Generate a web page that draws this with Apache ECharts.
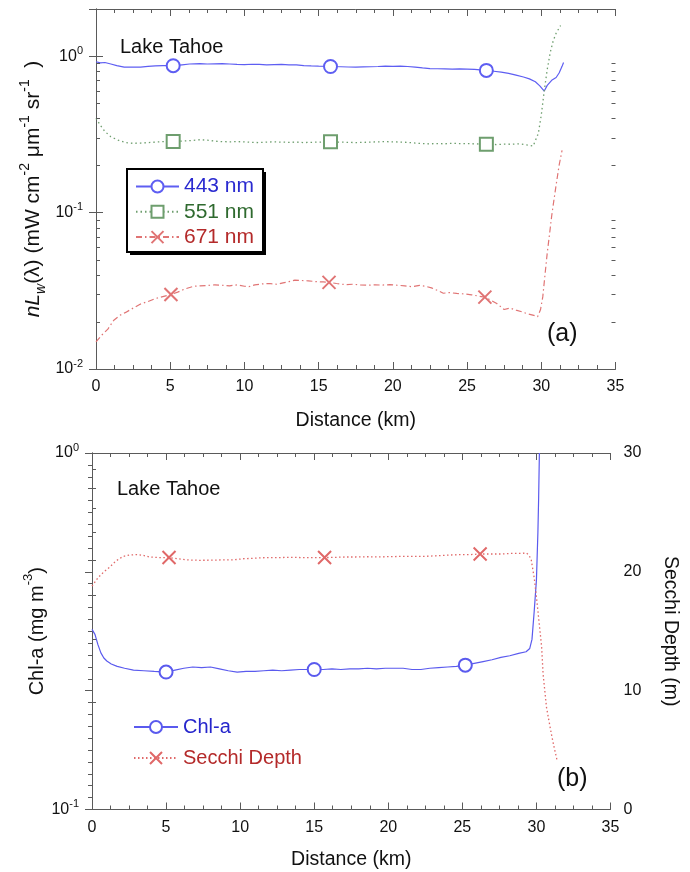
<!DOCTYPE html>
<html>
<head>
<meta charset="utf-8">
<script src="https://cdn.jsdelivr.net/npm/echarts@6/dist/echarts.min.js"></script>
<style>
html,body{margin:0;padding:0;background:#fff;}
#chart{width:690px;height:872px;}
</style>
</head>
<body>
<div id="chart"></div>
<script>
// ---------- DATA ----------
// Panel (a): nLw(λ) along transect
const dist443 = [0,0.3,0.6,1.0,1.4,1.9,2.5,3.0,3.5,4.0,4.5,5.2,5.8,6.3,7.0,7.5,8.0,8.5,9.0,9.5,10.0,10.5,11.0,11.5,12.0,12.5,13.0,13.5,14.0,14.5,15.0,15.8,16.5,17.0,17.5,18.0,18.5,19.0,19.5,20.0,20.5,21.0,21.5,22.0,22.5,23.0,23.5,24.0,24.5,25.0,25.5,26.3,26.8,27.3,27.8,28.3,28.8,29.2,29.6,29.9,30.2,30.4,30.7,31.0,31.2,31.4,31.5];
const nLw443 = [0.92,0.905,0.91,0.89,0.87,0.85,0.85,0.85,0.86,0.865,0.87,0.868,0.88,0.89,0.895,0.89,0.893,0.895,0.89,0.885,0.883,0.887,0.885,0.88,0.883,0.885,0.88,0.878,0.87,0.865,0.862,0.858,0.855,0.852,0.85,0.853,0.855,0.858,0.862,0.86,0.862,0.858,0.85,0.84,0.832,0.83,0.828,0.826,0.828,0.825,0.822,0.81,0.80,0.79,0.775,0.755,0.735,0.715,0.685,0.645,0.598,0.65,0.70,0.73,0.78,0.86,0.91];
const mark443 = [5.2,15.8,26.3];

const dist551 = [0,0.3,0.6,1.0,1.5,2.0,2.5,3.0,3.5,4.0,4.5,5.2,6.0,6.5,7.0,7.5,8.0,8.5,9.0,9.5,10.0,10.5,11.0,11.5,12.0,12.5,13.0,13.5,14.0,14.5,15.0,15.8,16.5,17.0,17.5,18.0,18.5,19.0,19.5,20.0,20.5,21.0,21.5,22.0,22.5,23.0,23.5,24.0,24.5,25.0,25.5,26.3,27.0,27.5,28.0,28.5,29.0,29.45,29.8,30.0,30.2,30.4,30.6,30.8,31.0,31.3];
const nLw551 = [0.40,0.36,0.33,0.305,0.29,0.28,0.277,0.278,0.28,0.282,0.284,0.285,0.287,0.289,0.292,0.29,0.286,0.284,0.283,0.284,0.283,0.281,0.28,0.282,0.283,0.282,0.281,0.282,0.28,0.281,0.282,0.283,0.282,0.281,0.28,0.281,0.282,0.283,0.284,0.283,0.282,0.281,0.278,0.276,0.275,0.276,0.275,0.277,0.276,0.276,0.275,0.273,0.272,0.274,0.273,0.275,0.271,0.266,0.32,0.42,0.60,0.82,1.05,1.25,1.40,1.57];
const mark551 = [5.2,15.8,26.3];

const dist671 = [0,0.4,0.8,1.2,1.6,2.0,2.5,3.0,3.5,4.0,4.5,5.05,5.5,6.0,6.6,7.0,7.5,8.0,8.5,9.0,9.5,10.0,10.3,10.7,11.2,11.7,12.2,12.6,13.0,13.4,13.8,14.3,14.8,15.3,15.7,16.2,16.8,17.3,17.8,18.3,18.8,19.3,19.8,20.3,20.8,21.3,21.8,22.2,22.6,23.0,23.4,23.8,24.3,24.8,25.3,25.8,26.2,26.6,27.0,27.5,27.9,28.3,28.7,29.1,29.5,29.75,29.95,30.1,30.25,30.4,30.55,30.7,30.85,31.0,31.2,31.4];
const nLw671 = [0.0149,0.0165,0.018,0.0205,0.022,0.023,0.0245,0.026,0.027,0.0282,0.029,0.0299,0.031,0.0325,0.0338,0.034,0.0342,0.0345,0.0343,0.034,0.0345,0.0338,0.0336,0.0345,0.035,0.0352,0.0348,0.0355,0.0362,0.037,0.0368,0.0366,0.0362,0.036,0.0358,0.0352,0.0346,0.0348,0.0345,0.0343,0.0345,0.0344,0.0346,0.0343,0.034,0.0336,0.0342,0.0338,0.033,0.0318,0.0305,0.0308,0.0304,0.0302,0.0298,0.0292,0.0288,0.0275,0.0262,0.024,0.0245,0.0238,0.0232,0.0225,0.022,0.0216,0.024,0.0289,0.040,0.055,0.072,0.095,0.12,0.15,0.20,0.25];
const mark671 = [5.05,15.7,26.2];

// Panel (b): Chl-a and Secchi depth
const distChl = [0,0.2,0.4,0.6,0.8,1.0,1.3,1.7,2.2,2.8,3.5,4.2,5.0,5.6,6.2,6.8,7.4,8.0,8.6,9.2,9.8,10.4,11.0,11.6,12.2,12.8,13.4,14.0,15.0,15.6,16.2,16.8,17.4,18.0,18.6,19.2,19.8,20.4,21.0,21.6,22.2,22.8,23.4,24.0,24.6,25.2,25.8,26.4,27.0,27.6,28.2,28.8,29.3,29.55,29.7,29.85,30.0,30.1,30.15,30.2];
const chl = [0.32,0.31,0.29,0.275,0.266,0.261,0.256,0.252,0.249,0.246,0.245,0.244,0.243,0.246,0.249,0.251,0.25,0.251,0.248,0.245,0.243,0.244,0.244,0.245,0.246,0.245,0.246,0.247,0.247,0.247,0.248,0.247,0.248,0.248,0.249,0.248,0.249,0.249,0.249,0.247,0.247,0.249,0.25,0.251,0.252,0.254,0.257,0.26,0.263,0.267,0.27,0.274,0.277,0.283,0.30,0.36,0.44,0.6,0.75,1.0];
const markChl = [5.0,15.0,25.2];

const distSecchi = [0,0.4,0.8,1.2,1.6,2.1,2.5,2.95,3.4,3.9,4.5,5.2,5.8,6.5,7.3,8.0,8.7,9.5,10.2,11.0,11.8,12.6,13.4,14.2,15.0,15.7,16.4,17.05,17.8,18.6,19.4,20.2,21.0,21.8,22.45,23.2,24.0,24.8,25.5,26.2,26.9,27.6,28.3,29.0,29.3,29.5,29.65,29.85,30.0,30.2,30.35,30.45,30.68,31.0,31.2,31.4];
const secchi = [18.8,19.5,20.0,20.4,20.9,21.3,21.4,21.45,21.4,21.25,21.2,21.2,21.1,21.0,20.97,20.98,21.0,21.0,21.1,21.15,21.2,21.2,21.22,21.2,21.2,21.2,21.22,21.25,21.25,21.27,21.26,21.28,21.3,21.3,21.3,21.35,21.4,21.45,21.45,21.5,21.5,21.5,21.55,21.55,21.6,21.4,21.0,19.5,17.9,15.5,13.7,11.4,8.6,6.4,5.2,4.1];
const markSecchi = [5.2,15.7,26.2];

// Axis ranges
const xRange = [0, 35];
const nLwRange = [0.01, 2];
const chlRange = [0.1, 1];
const secchiRange = [0, 30];

// ---------- HELPERS ----------
const FONT = 'Liberation Sans, Arial, Helvetica, sans-serif';
const AXC = '#5a5a5a';

function buildData(xs, ys, marks) {
  return xs.map((x, i) => marks.indexOf(x) >= 0 ? [x, ys[i]] : { value: [x, ys[i]], symbol: 'none' });
}
function logMinor(lo, hi) {
  const out = [];
  for (let d = lo; d < hi * 0.999; d *= 10) {
    for (let m = 2; m <= 9; m++) { const v = +(m * d).toPrecision(6); if (v < hi) out.push(v); }
  }
  return out;
}
function powLabel(v) {
  const e = Math.log10(v);
  if (Math.abs(e - Math.round(e)) > 1e-6) return '';
  return '{b|10}{s|' + Math.round(e) + '}';
}
const powRich = {
  b: { fontSize: 16, fontFamily: FONT, color: '#111', lineHeight: 22 },
  s: { fontSize: 11, fontFamily: FONT, color: '#111', lineHeight: 11, verticalAlign: 'top' }
};

function xAxisDef(grid, pos, withLabel, nameGap) {
  return {
    type: 'value', gridIndex: grid, position: pos,
    min: xRange[0], max: xRange[1], interval: 5,
    axisLine: { show: true, lineStyle: { color: AXC, width: 1 } },
    axisTick: { show: true, inside: true, length: 7, lineStyle: { color: AXC } },
    minorTick: { show: true, splitNumber: 4, length: 4, lineStyle: { color: AXC } },
    axisLabel: { show: withLabel, fontSize: 16, fontFamily: FONT, color: '#111', margin: 10 },
    splitLine: { show: false }, minorSplitLine: { show: false },
    name: withLabel ? 'Distance (km)' : '',
    nameLocation: 'middle', nameGap: nameGap || 40, nameMoveOverlap: false,
    nameTextStyle: { fontSize: 19.5, fontFamily: FONT, color: '#111' }
  };
}
function logAxisDef(grid, pos, range, withLabel, extra) {
  return Object.assign({
    type: 'log', logBase: 10, gridIndex: grid, position: pos,
    min: range[0], max: range[1], interval: 1,
    axisLine: { show: true, lineStyle: { color: AXC, width: 1 } },
    axisTick: { show: true, inside: true, length: 7, lineStyle: { color: AXC } },
    axisLabel: { show: withLabel, formatter: powLabel, rich: powRich, margin: 13 },
    splitLine: { show: false }, nameMoveOverlap: false
  }, extra || {});
}
// minor ticks of the log axes, positioned through the axis scale
function minorTickSeries(xi, yi, vals, side, len) {
  return {
    type: 'custom', xAxisIndex: xi, yAxisIndex: yi, silent: true, clip: false, animation: false, z: 5,
    data: vals.map(v => [xRange[0], v]),
    renderItem: function (params, api) {
      const cs = params.coordSys;
      const p = api.coord([xRange[0], api.value(1)]);
      const y = Math.round(p[1]) + 0.5;
      const x0 = side === 'left' ? cs.x : cs.x + cs.width;
      const dx = side === 'left' ? len : -len;
      return { type: 'line', shape: { x1: x0, y1: y, x2: x0 + dx, y2: y }, style: { stroke: AXC, lineWidth: 1 } };
    }
  };
}

const C443 = '#5e5ef2', T443 = '#2a2ad0';
const C551 = '#6e9e6e', T551 = '#2f6a2f';
const C671 = '#e07474', T671 = '#b42a2a';
const CCHL = '#5a5aee', TCHL = '#2626cc';
const CSEC = '#e06868', TSEC = '#b42a2a';
const CROSS = 'emptyPath://M0,0L10,10M10,0L0,10';

function lineSeries(name, xi, yi, data, color, symbol, lineType, width) {
  return {
    name: name, type: 'line', xAxisIndex: xi, yAxisIndex: yi,
    data: data, symbol: symbol, symbolSize: 13, symbolKeepAspect: true,
    showSymbol: true, showAllSymbol: true, smooth: false, clip: true,
    lineStyle: { color: color, width: width || 1.1, type: lineType },
    itemStyle: { color: color, borderWidth: 1.2 },
    emphasis: { disabled: true }, animation: false, z: 3
  };
}

const option = {
  animation: false,
  backgroundColor: '#fff',
  textStyle: { fontFamily: FONT },
  grid: [
    { left: 96, top: 9, width: 519.5, height: 360, outerBoundsMode: 'none' },
    { left: 92, top: 453, width: 518.5, height: 356.5, outerBoundsMode: 'none' }
  ],
  xAxis: [
    xAxisDef(0, 'bottom', true, 42),
    xAxisDef(0, 'top', false),
    xAxisDef(1, 'bottom', true, 40),
    xAxisDef(1, 'top', false)
  ],
  yAxis: [
    logAxisDef(0, 'left', nLwRange, true, {
      name: '{it|nL}{sub|w}{n|(λ) (mW cm}{sup|-2}{n| μm}{sup|-1}{n| sr}{sup|-1}{n|  )}',
      nameLocation: 'middle', nameGap: 48, nameRotate: 90,
      nameTextStyle: {
        color: '#111', fontFamily: FONT,
        rich: {
          it: { fontSize: 21, fontStyle: 'italic', fontFamily: FONT, color: '#111', lineHeight: 30 },
          n: { fontSize: 21, fontFamily: FONT, color: '#111', lineHeight: 30 },
          sup: { fontSize: 14, fontFamily: FONT, color: '#111', lineHeight: 13, verticalAlign: 'top' },
          sub: { fontSize: 14, fontStyle: 'italic', fontFamily: FONT, color: '#111', lineHeight: 13, verticalAlign: 'bottom' }
        }
      }
    }),
    logAxisDef(0, 'right', nLwRange, false),
    logAxisDef(1, 'left', chlRange, true, {
      name: '{n|Chl-a (mg m}{sup|-3}{n|)}',
      nameLocation: 'middle', nameGap: 40, nameRotate: 90,
      nameTextStyle: {
        color: '#111', fontFamily: FONT,
        rich: {
          n: { fontSize: 20, fontFamily: FONT, color: '#111', lineHeight: 30 },
          sup: { fontSize: 13, fontFamily: FONT, color: '#111', lineHeight: 13, verticalAlign: 'top' }
        }
      }
    }),
    {
      type: 'value', gridIndex: 1, position: 'right',
      min: secchiRange[0], max: secchiRange[1], interval: 10,
      axisLine: { show: true, lineStyle: { color: AXC, width: 1 } },
      axisTick: { show: true, inside: true, length: 7, lineStyle: { color: AXC } },
      minorTick: { show: true, splitNumber: 10, length: 4, lineStyle: { color: AXC } },
      axisLabel: { show: true, fontSize: 16, fontFamily: FONT, color: '#111', margin: 13 },
      splitLine: { show: false }, minorSplitLine: { show: false },
      name: 'Secchi Depth (m)', nameLocation: 'middle', nameGap: 50, nameRotate: -90, nameMoveOverlap: false,
      nameTextStyle: { fontSize: 19.5, fontFamily: FONT, color: '#111' }
    }
  ],
  legend: [
    {
      orient: 'vertical', left: 126, top: 170,
      itemWidth: 43, itemHeight: 15, itemGap: 4.3,
      padding: [6, 10, 7, 9], z: 10,
      selectedMode: false,
      textStyle: { fontSize: 21, fontFamily: FONT },
      data: [
        { name: '443 nm', textStyle: { color: T443 } },
        { name: '551 nm', textStyle: { color: T551 } },
        { name: '671 nm', textStyle: { color: T671 } }
      ]
    },
    {
      orient: 'vertical', left: 133, top: 717,
      itemWidth: 44, itemHeight: 15, itemGap: 11,
      padding: 0, selectedMode: false,
      textStyle: { fontSize: 20, fontFamily: FONT },
      data: [
        { name: 'Chl-a', textStyle: { color: TCHL } },
        { name: 'Secchi Depth', textStyle: { color: TSEC } }
      ]
    }
  ],
  graphic: [
    { type: 'rect', left: 130, top: 172, z: 8, shape: { width: 136, height: 83 }, style: { fill: '#000' } },
    { type: 'rect', left: 126, top: 168, z: 9, shape: { width: 136, height: 83 }, style: { fill: '#fff', stroke: '#000', lineWidth: 2 } },
    { type: 'text', left: 120, top: 37, style: { text: 'Lake Tahoe', font: '20px ' + FONT, fill: '#111' } },
    { type: 'text', left: 547, top: 322, style: { text: '(a)', font: '25px ' + FONT, fill: '#111' } },
    { type: 'text', left: 117, top: 479, style: { text: 'Lake Tahoe', font: '20px ' + FONT, fill: '#111' } },
    { type: 'text', left: 557, top: 767, style: { text: '(b)', font: '25px ' + FONT, fill: '#111' } }
  ],
  series: [
    lineSeries('443 nm', 0, 0, buildData(dist443, nLw443, mark443), C443, 'emptyCircle', 'solid', 1.2),
    lineSeries('551 nm', 0, 0, buildData(dist551, nLw551, mark551), C551, 'emptyRect', [1.5, 3], 1.3),
    lineSeries('671 nm', 0, 0, buildData(dist671, nLw671, mark671), C671, CROSS, [6, 3, 1.5, 3], 1.2),
    lineSeries('Chl-a', 2, 2, buildData(distChl, chl, markChl), CCHL, 'emptyCircle', 'solid', 1.2),
    lineSeries('Secchi Depth', 2, 3, buildData(distSecchi, secchi, markSecchi), CSEC, CROSS, [1.5, 2.5], 1.3),
    minorTickSeries(0, 0, logMinor(nLwRange[0], nLwRange[1]), 'left', 4),
    minorTickSeries(0, 0, logMinor(nLwRange[0], nLwRange[1]), 'right', 4),
    minorTickSeries(2, 2, logMinor(chlRange[0], chlRange[1]), 'left', 4)
  ]
};

const chart = echarts.init(document.getElementById('chart'), null, { renderer: 'canvas', width: 690, height: 872 });
chart.setOption(option);
</script>
</body>
</html>
